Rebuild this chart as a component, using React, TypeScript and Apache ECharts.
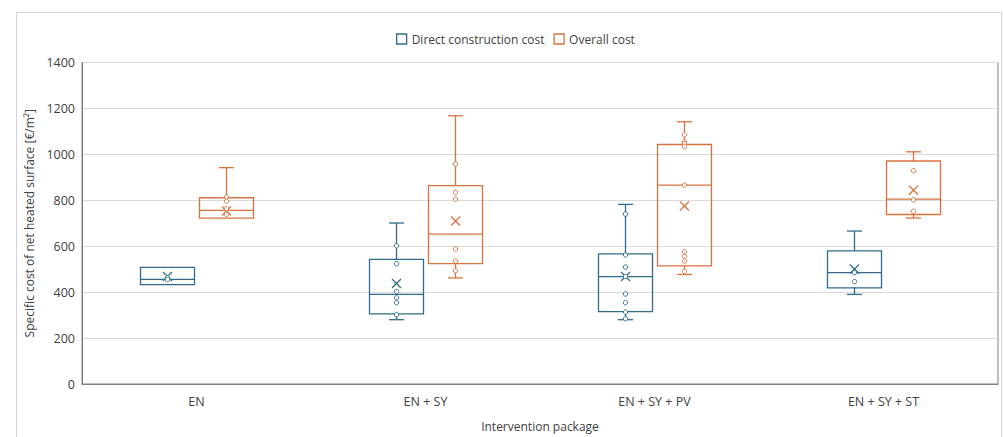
import React, { useEffect, useRef } from 'react';
import * as echarts from 'echarts';

const categories = ['EN', 'EN + SY', 'EN + SY + PV', 'EN + SY + ST'];
const seriesNames = ['Direct construction cost', 'Overall cost'];

// [min, Q1, median, Q3, max]
const directBox = [
  [433, 433, 456, 508, 508],
  [280, 305, 390, 543, 701],
  [280, 315, 468, 567, 782],
  [390, 419, 485, 580, 666],
];
const directMean = [468, 438, 468, 501];
const directPoints = [
  [463, 455],
  [602, 524, 403, 375, 354, 302],
  [740, 562, 509, 468, 392, 354, 313, 284],
  [485, 446],
];

const overallBox = [
  [722, 722, 756, 811, 942],
  [462, 524, 653, 864, 1168],
  [477, 514, 866, 1043, 1142],
  [723, 738, 805, 971, 1011],
];
const overallMean = [753, 710, 775, 844];
const overallPoints = [
  [814, 796, 763, 739],
  [958, 835, 805, 588, 536, 493],
  [1085, 1054, 1046, 1033, 866, 576, 556, 536, 490],
  [929, 802, 752],
];

const BLUE = '#2f6c8b';
const ORANGE = '#d6733f';
const FONT = 'Open Sans';
const TEXT = '#404040';

function boxRenderer(offset: number, color: string) {
  return (params: any, api: any) => {
    const ci = api.value(0);
    const c = (v: number) => api.coord([ci, v]);
    const x = Math.round(c(api.value(1))[0] + offset) + 0.5;
    const yMin = c(api.value(1))[1];
    const yQ1 = c(api.value(2))[1];
    const yMed = c(api.value(3))[1];
    const yQ3 = c(api.value(4))[1];
    const yMax = c(api.value(5))[1];
    const yMean = c(api.value(6))[1];
    const hw = 27;
    const cw = 7.5;
    const m = 4.5;
    const ls = { stroke: color, lineWidth: 1.3, fill: 'none' };
    const children: any[] = [];
    if (yMax < yQ3 - 0.5) {
      children.push({ type: 'line', shape: { x1: x, y1: yMax, x2: x, y2: yQ3 }, style: ls });
      children.push({ type: 'line', shape: { x1: x - cw, y1: yMax, x2: x + cw, y2: yMax }, style: ls });
    }
    if (yMin > yQ1 + 0.5) {
      children.push({ type: 'line', shape: { x1: x, y1: yQ1, x2: x, y2: yMin }, style: ls });
      children.push({ type: 'line', shape: { x1: x - cw, y1: yMin, x2: x + cw, y2: yMin }, style: ls });
    }
    children.push({
      type: 'rect',
      shape: { x: x - hw, y: yQ3, width: 2 * hw, height: yQ1 - yQ3 },
      style: { fill: 'none', stroke: color, lineWidth: 1.3 },
    });
    children.push({ type: 'line', shape: { x1: x - hw, y1: yMed, x2: x + hw, y2: yMed }, style: ls });
    children.push({ type: 'line', shape: { x1: x - m, y1: yMean - m, x2: x + m, y2: yMean + m }, style: ls });
    children.push({ type: 'line', shape: { x1: x - m, y1: yMean + m, x2: x + m, y2: yMean - m }, style: ls });
    return { type: 'group', children };
  };
}

function pointRenderer(offset: number, color: string) {
  return (params: any, api: any) => {
    const p = api.coord([api.value(0), api.value(1)]);
    return {
      type: 'circle',
      shape: { cx: Math.round(p[0] + offset) + 0.5, cy: p[1], r: 2.2 },
      style: { fill: '#fff', stroke: color, lineWidth: 1 },
    };
  };
}

function boxData(box: number[][], mean: number[]) {
  return box.map((b, i) => [i, ...b, mean[i]]);
}
function pointData(pts: number[][]) {
  const out: number[][] = [];
  pts.forEach((arr, i) => arr.forEach((v) => out.push([i, v])));
  return out;
}

export default function App() {
  const ref = useRef<HTMLDivElement>(null);
  useEffect(() => {
    if (!ref.current) return;
    const chart = echarts.init(ref.current, undefined, { renderer: 'svg' });
    chart.setOption({
      animation: false,
      textStyle: { fontFamily: FONT },
      graphic: [
        {
          type: 'rect',
          silent: true,
          z: -10,
          shape: { x: 16.5, y: 12.5, width: 985, height: 600 },
          style: { fill: 'none', stroke: '#d4d4d4', lineWidth: 1 },
        },
      ],
      legend: {
        top: 28,
        left: 391,
        itemWidth: 10,
        itemHeight: 10,
        itemGap: 9,
        textStyle: { fontFamily: FONT, fontSize: 12, color: TEXT },
        data: [
          { name: seriesNames[0], icon: 'rect', itemStyle: { color: '#fff', borderColor: BLUE, borderWidth: 1.3 } },
          { name: seriesNames[1], icon: 'rect', itemStyle: { color: '#fff', borderColor: ORANGE, borderWidth: 1.3 } },
        ],
      },
      grid: {
        left: 82,
        right: 5,
        top: 62.5,
        bottom: 50,
        show: true,
        borderColor: '#7f7f7f',
        borderWidth: 1,
      },
      xAxis: {
        type: 'category',
        data: categories,
        axisTick: { show: false },
        axisLine: { lineStyle: { color: '#7f7f7f' } },
        axisLabel: { fontFamily: FONT, fontSize: 12.5, color: TEXT, margin: 11 },
        name: 'Intervention package',
        nameLocation: 'middle',
        nameGap: 36,
        nameTextStyle: { fontFamily: FONT, fontSize: 12, color: TEXT },
      },
      yAxis: {
        type: 'value',
        min: 0,
        max: 1400,
        interval: 200,
        axisLine: { show: true, lineStyle: { color: '#7f7f7f' } },
        axisTick: { show: false },
        splitLine: { lineStyle: { color: '#d9d9d9' } },
        axisLabel: {
          fontFamily: FONT,
          fontSize: 12.5,
          color: TEXT,
          margin: 7,
          formatter: (v: number) => String(v),
        },
        name: 'Specific cost of net heated surface [€/m²]',
        nameLocation: 'middle',
        nameGap: 44,
        nameTextStyle: { fontFamily: FONT, fontSize: 12, color: TEXT },
      },
      series: [
        {
          name: seriesNames[0],
          type: 'custom',
          renderItem: boxRenderer(-29.5, BLUE),
          encode: { x: 0, y: [1, 2, 3, 4, 5, 6] },
          itemStyle: { color: BLUE },
          data: boxData(directBox, directMean),
          z: 3,
        },
        {
          name: seriesNames[1],
          type: 'custom',
          renderItem: boxRenderer(29.5, ORANGE),
          encode: { x: 0, y: [1, 2, 3, 4, 5, 6] },
          itemStyle: { color: ORANGE },
          data: boxData(overallBox, overallMean),
          z: 3,
        },
        {
          name: seriesNames[0],
          type: 'custom',
          renderItem: pointRenderer(-29.5, BLUE),
          encode: { x: 0, y: 1 },
          itemStyle: { color: BLUE },
          data: pointData(directPoints),
          z: 4,
        },
        {
          name: seriesNames[1],
          type: 'custom',
          renderItem: pointRenderer(29.5, ORANGE),
          encode: { x: 0, y: 1 },
          itemStyle: { color: ORANGE },
          data: pointData(overallPoints),
          z: 4,
        },
      ],
    });
    return () => chart.dispose();
  }, []);
  return (
    <div
      ref={ref}
      style={{ position: 'fixed', left: 0, top: 0, width: 1003, height: 437, background: '#fff' }}
    />
  );
}
